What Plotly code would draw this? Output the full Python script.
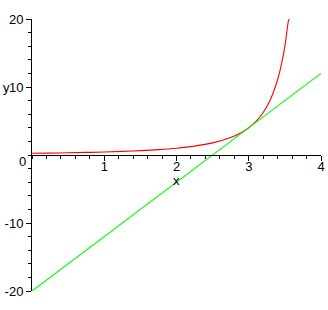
import plotly.graph_objects as go

# red curve: values
curve_x = [0.0, 0.25, 0.5, 0.75, 1.0, 1.25, 1.5, 1.75, 2.0, 2.25, 2.5, 2.75, 2.9, 3.0, 3.1, 3.2, 3.3, 3.4, 3.45, 3.5, 3.55, 3.56]
curve_y = [0.25, 0.28, 0.33, 0.38, 0.44, 0.53, 0.64, 0.79, 1.0, 1.31, 1.78, 2.56, 3.31, 4.0, 4.94, 6.25, 8.16, 11.1, 13.2, 16.0, 19.75, 20.0]

# green tangent line
line_x = [0.0, 4.0]
line_y = [-20.0, 12.0]

x_ticks = [1, 2, 3, 4]
y_ticks = [-20, -10, 10, 20]

fig = go.Figure()
fig.add_trace(go.Scatter(x=curve_x, y=curve_y, mode="lines",
                         line=dict(color="#ff0000", width=1.1, shape="spline"),
                         showlegend=False, hoverinfo="skip"))
fig.add_trace(go.Scatter(x=line_x, y=line_y, mode="lines",
                         line=dict(color="#00ff00", width=1.1),
                         showlegend=False, hoverinfo="skip"))

fnt = dict(family="Liberation Sans, Arial, sans-serif", size=13, color="black")

fig.update_layout(
    width=328, height=310,
    margin=dict(l=32, r=7, t=19, b=19, autoexpand=False),
    paper_bgcolor="white", plot_bgcolor="white",
    font=fnt,
    xaxis=dict(range=[0, 4], showgrid=False, zeroline=False, automargin=False,
               showline=True, linecolor="black", linewidth=1,
               anchor="free", position=0.5,
               tickmode="array", tickvals=x_ticks, ticktext=[str(v) for v in x_ticks],
               ticks="outside", ticklen=5, tickcolor="black", tickwidth=1,
               ticklabelstandoff=-6,
               minor=dict(dtick=0.2, tick0=0, ticks="outside", ticklen=3, tickcolor="black"),
               tickfont=fnt),
    yaxis=dict(range=[-20, 20], showgrid=False, zeroline=False, automargin=False,
               showline=True, linecolor="black", linewidth=1,
               tickmode="array", tickvals=y_ticks, ticktext=[str(v) for v in y_ticks],
               ticks="outside", ticklen=5, tickcolor="black", tickwidth=1,
               minor=dict(dtick=2, tick0=0, ticks="outside", ticklen=3, tickcolor="black"),
               tickfont=fnt),
    annotations=[
        dict(text="x", x=2.0, y=0, xref="x", yref="y", yshift=-25, showarrow=False, font=fnt),
        dict(text="y", x=0, y=10, xref="x", yref="y", xshift=-26, showarrow=False, font=fnt),
        dict(text="0", x=0, y=0, xref="x", yref="y", xshift=-10, yshift=-6, showarrow=False, font=fnt),
    ],
)

fig.write_html("out.html")
